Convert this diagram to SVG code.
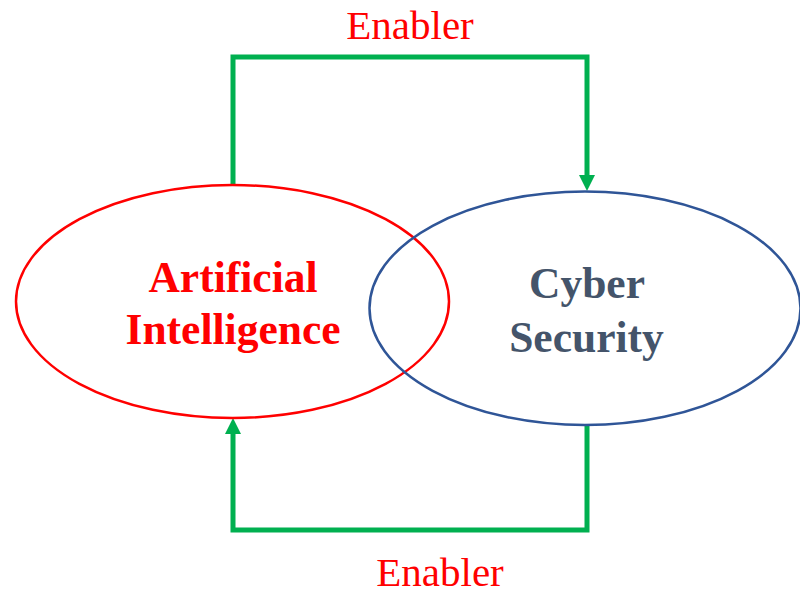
<svg xmlns="http://www.w3.org/2000/svg" width="800" height="595" viewBox="0 0 800 595">
<style>
.lbl{font-family:"Liberation Serif","Times New Roman",serif;font-size:41px;fill:#FF0000;text-anchor:middle}
.node-t{font-family:"Liberation Serif","Times New Roman",serif;font-size:43.5px;font-weight:bold;text-anchor:middle}
.conn{fill:none;stroke:#00B050;stroke-width:5;stroke-linejoin:miter}
</style>
<defs>
<marker id="arr" markerUnits="userSpaceOnUse" markerWidth="17" markerHeight="16" refX="0" refY="8" orient="auto" overflow="visible">
<path d="M0,0 L16,8 L0,16 z" fill="#00B050"/>
</marker>
</defs>
<rect width="800" height="595" fill="#FFFFFF"/>
<g id="connectors">
<path class="conn" d="M233,186 V57 H587 V175" marker-end="url(#arr)"/>
<path class="conn" d="M587,424 V530 H233 V434" marker-end="url(#arr)"/>
<text class="lbl" x="410" y="39">Enabler</text>
<text class="lbl" x="440" y="586">Enabler</text>
</g>
<g id="node-ai">
<ellipse cx="232.5" cy="301.5" rx="216.5" ry="116.5" fill="none" stroke="#FF0000" stroke-width="2.5"/>
<text class="node-t" x="233" y="291.5" fill="#FF0000">Artificial</text>
<text class="node-t" x="233" y="343.5" fill="#FF0000">Intelligence</text>
</g>
<g id="node-cyber">
<ellipse cx="585" cy="308.3" rx="215.5" ry="116.7" fill="none" stroke="#2F5597" stroke-width="2.5"/>
<text class="node-t" x="587" y="298" fill="#44546A">Cyber</text>
<text class="node-t" x="586.5" y="351.5" fill="#44546A">Security</text>
</g>
</svg>
